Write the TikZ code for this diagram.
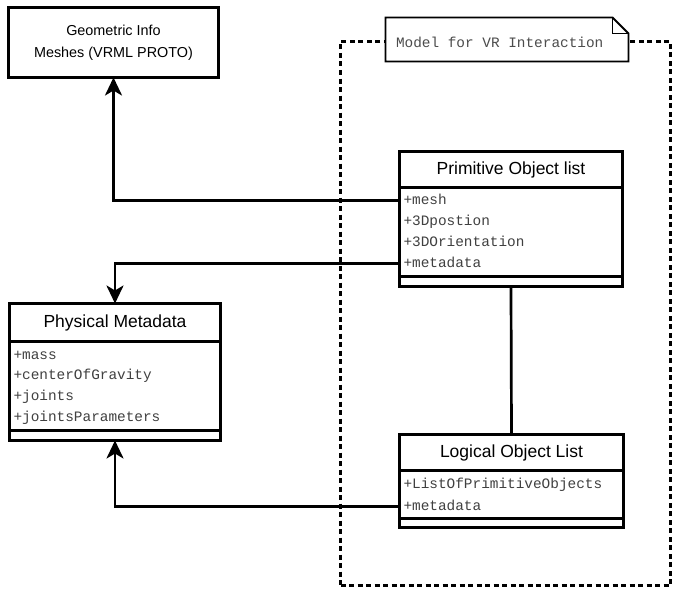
\documentclass[tikz,border=0pt]{standalone}
\usepackage{fontspec}
\usetikzlibrary{arrows.meta,positioning}
\newfontfamily\helv{Liberation Sans}
\newfontfamily\cour{Liberation Mono}
\newcommand{\headfont}{\helv\fontsize{17.5}{21}\selectfont}
\newcommand{\geofont}{\helv\fontsize{14.4}{22}\selectfont}
\newcommand{\attrfont}{\cour\fontsize{14.4}{17}\selectfont}

\tikzset{
  box/.style={draw, line width=2.8pt, inner sep=0pt, outer sep=0pt},
  classhead/.style={box, anchor=north west, font=\headfont},
  attrrow/.style={anchor=west, inner xsep=4pt, inner ysep=0pt, outer sep=0pt, text height=10pt, text depth=3pt, font=\attrfont, text=black!75},
  link/.style={line width=2.7pt},
  linkarrow/.style={link, -{Stealth[length=18pt,width=17pt,inset=5pt]}},
  vrframe/.style={draw, line width=2.7pt, dash pattern=on 5pt off 3.5pt, inner sep=0pt, outer sep=0pt},
}

\begin{document}
\begin{tikzpicture}[x=1pt,y=-1pt]
\useasboundingbox (0,0) rectangle (673,589);

% package frame and its note
\node[vrframe, anchor=north west, minimum width=330pt, minimum height=544pt] (frame) at (340.5,41.5) {};
\node[anchor=north west, fill=white, inner sep=0pt, outer sep=0pt, minimum width=243pt, minimum height=44pt] (note) at (385.5,17.5) {};
\draw[line width=1.8pt] (note.north west) -- ([xshift=-16pt]note.north east) -- ([yshift=-16pt]note.north east) -- (note.south east) -- (note.south west) -- cycle;
\draw[line width=1.8pt] ([xshift=-16pt]note.north east) |- ([yshift=-16pt]note.north east);
\node[attrrow, text=black!70] (notelabel) at (392,44) {Model for VR Interaction};

% geometric info
\node[box, line width=3pt, minimum width=210pt, minimum height=70pt, align=center, font=\geofont] (geo) at (113.5,42.5) {Geometric Info\\Meshes (VRML PROTO)};

% primitive object list
\node[classhead, minimum width=223pt, minimum height=36pt] (primhead) at (399.5,151.5) {Primitive Object list};
\node[box, below=0pt of primhead, minimum width=223pt, minimum height=89pt] (primattr) {};
\node[box, below=0pt of primattr, minimum width=223pt, minimum height=10pt] (primops) {};
\node[attrrow] (primmesh) at (399.5,200.5) {+mesh};
\node[attrrow] (primpos) at (399.5,221.5) {+3Dpostion};
\node[attrrow] (primori) at (399.5,242.5) {+3DOrientation};
\node[attrrow] (primmeta) at (399.5,263.5) {+metadata};

% physical metadata
\node[classhead, minimum width=211pt, minimum height=38pt] (physhead) at (9.5,303.5) {Physical Metadata};
\node[box, below=0pt of physhead, minimum width=211pt, minimum height=89pt] (physattr) {};
\node[box, below=0pt of physattr, minimum width=211pt, minimum height=10pt] (physops) {};
\node[attrrow] (physmass) at (9.5,355.5) {+mass};
\node[attrrow] (physcog) at (9.5,375.5) {+centerOfGravity};
\node[attrrow] (physjoints) at (9.5,396.5) {+joints};
\node[attrrow] (physparams) at (9.5,417.5) {+jointsParameters};

% logical object list
\node[classhead, minimum width=224pt, minimum height=36pt] (logichead) at (399.5,434.5) {Logical Object List};
\node[box, below=0pt of logichead, minimum width=224pt, minimum height=48pt] (logicattr) {};
\node[box, below=0pt of logicattr, minimum width=224pt, minimum height=9pt] (logicops) {};
\node[attrrow] (logiclist) at (399.5,484.5) {+ListOfPrimitiveObjects};
\node[attrrow] (logicmeta) at (399.5,506.5) {+metadata};

% connectors
\draw[linkarrow] (primmesh.west) -| (geo.south);
\draw[linkarrow] (primmeta.west) -| (physhead.north);
\draw[linkarrow] (logicmeta.west) -| (physops.south);
\draw[link] (primops.south) -- (logichead.north);
\end{tikzpicture}
\end{document}
